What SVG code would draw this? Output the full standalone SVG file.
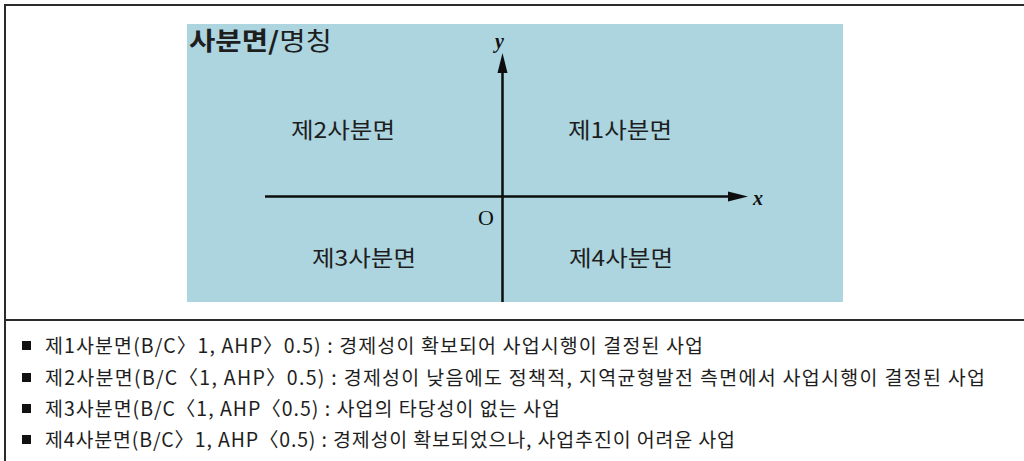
<svg xmlns="http://www.w3.org/2000/svg" width="1024" height="461" viewBox="0 0 1024 461">
<defs>
<style>
.ko{font-family:"Noto Sans CJK KR","Noto Sans",sans-serif;fill:#1e1e1e}
.q{font-size:22px}
.lst{font-size:19.5px}
.ax{font-family:"Liberation Serif",serif;fill:#111}
.frame{fill:none;stroke:#2b2b2b;stroke-width:2}
.axis{stroke:#0d0d0d;stroke-width:2.5;fill:none}
</style>
</defs>
<rect width="1024" height="461" fill="#ffffff"/>
<g id="frame">
<path class="frame" d="M5,461 V5 H1024"/>
<line class="frame" x1="5" y1="320" x2="1024" y2="320"/>
</g>
<g id="chart">
<rect x="187" y="24" width="656" height="278" fill="#acd5e0"/>
<text class="ko" x="189" y="50" font-size="25px" textLength="143" lengthAdjust="spacingAndGlyphs"><tspan font-weight="bold">사분면/</tspan><tspan>명칭</tspan></text>
</g>
<g id="connectors">
<line class="axis" x1="265" y1="196.5" x2="730" y2="196.5"/>
<polygon points="748,196.5 728,191.5 728,201.5" fill="#0d0d0d"/>
<line class="axis" x1="502.5" y1="302" x2="502.5" y2="70"/>
<polygon points="502.5,53 497.5,73 507.5,73" fill="#0d0d0d"/>
</g>
<g id="axis-labels">
<text class="ax" x="753" y="205" font-size="20px" font-style="italic" font-weight="bold">x</text>
<text class="ax" x="495" y="48" font-size="20px" font-style="italic" font-weight="bold">y</text>
<text class="ax" x="478" y="225" font-size="22px">O</text>
</g>
<g id="q1"><text class="ko q" x="568" y="138" textLength="104" lengthAdjust="spacingAndGlyphs">제1사분면</text></g>
<g id="q2"><text class="ko q" x="291" y="138" textLength="104" lengthAdjust="spacingAndGlyphs">제2사분면</text></g>
<g id="q3"><text class="ko q" x="312" y="266" textLength="104" lengthAdjust="spacingAndGlyphs">제3사분면</text></g>
<g id="q4"><text class="ko q" x="569" y="266" textLength="104" lengthAdjust="spacingAndGlyphs">제4사분면</text></g>
<g id="legend">
<rect x="22" y="341" width="9" height="9" fill="#111"/>
<rect x="22" y="373" width="9" height="9" fill="#111"/>
<rect x="22" y="404" width="9" height="9" fill="#111"/>
<rect x="22" y="435" width="9" height="9" fill="#111"/>
<text class="ko lst" x="45" y="353" textLength="658" lengthAdjust="spacing">제1사분면(B/C〉1, AHP〉0.5) : 경제성이 확보되어 사업시행이 결정된 사업</text>
<text class="ko lst" x="45" y="385" textLength="940" lengthAdjust="spacing">제2사분면(B/C〈1, AHP〉0.5) : 경제성이 낮음에도 정책적, 지역균형발전 측면에서 사업시행이 결정된 사업</text>
<text class="ko lst" x="45" y="416" textLength="515" lengthAdjust="spacing">제3사분면(B/C〈1, AHP〈0.5) : 사업의 타당성이 없는 사업</text>
<text class="ko lst" x="45" y="447" textLength="690" lengthAdjust="spacing">제4사분면(B/C〉1, AHP〈0.5) : 경제성이 확보되었으나, 사업추진이 어려운 사업</text>
</g>
</svg>
